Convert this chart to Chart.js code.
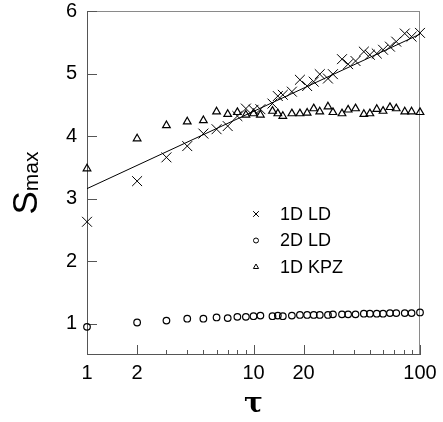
<!DOCTYPE html>
<html>
<head>
<meta charset="utf-8">
<script src="https://cdn.jsdelivr.net/npm/chart.js@4.4.1/dist/chart.umd.min.js"></script>
<style>
  html, body { margin: 0; padding: 0; background: #fff; }
  #wrap { width: 443px; height: 422px; }
</style>
</head>
<body>
<div id="wrap"><canvas id="smaxChart" width="443" height="422"></canvas></div>
<script>
// tau values shared by the three runs
const tau = [1, 2, 3, 4, 5, 6, 7, 8, 9, 10, 11, 13, 14, 15, 17, 19, 21, 23, 25, 28, 30,
  34, 37, 41, 46, 50, 55, 60, 66, 72, 81, 89, 100];
const ld1d = [2.63, 3.28, 3.66, 3.84, 4.04, 4.11, 4.16, 4.32, 4.44, 4.42, 4.43, 4.52, 4.64,
  4.66, 4.71, 4.90, 4.80, 4.87, 4.99, 4.92, 4.99, 5.23, 5.15, 5.20, 5.35, 5.30, 5.32, 5.38,
  5.43, 5.51, 5.64, 5.59, 5.65];
const ld2d = [0.95, 1.02, 1.05, 1.08, 1.08, 1.10, 1.09, 1.11, 1.11, 1.12, 1.13, 1.12, 1.13,
  1.12, 1.13, 1.14, 1.14, 1.14, 1.14, 1.14, 1.15, 1.15, 1.15, 1.15, 1.16, 1.16, 1.16, 1.16,
  1.17, 1.17, 1.17, 1.17, 1.18];
const kpz1d = [3.48, 3.96, 4.17, 4.23, 4.25, 4.39, 4.35, 4.38, 4.34, 4.36, 4.34, 4.40, 4.36,
  4.32, 4.36, 4.36, 4.37, 4.44, 4.39, 4.47, 4.38, 4.36, 4.42, 4.44, 4.35, 4.36, 4.43, 4.40,
  4.46, 4.44, 4.39, 4.39, 4.38];
// straight fit through the 1D LD points (linear in log tau)
const fitTau = [1, 100];
const fitS = [3.16, 5.63];

const xTickLabels = [1, 2, 10, 20, 100];
const xMinorTicks = [3, 4, 5, 6, 7, 8, 9, 30, 40, 50, 60, 70, 80, 90];
const yTicks = [1, 2, 3, 4, 5, 6];
const seriesNames = ['1D LD', '2D LD', '1D KPZ'];

const pts = (xs, ys) => xs.map((x, i) => ({ x: x, y: ys[i] }));
const FONT = 'Liberation Sans, Arial, sans-serif';

// frame box + inward tick marks + y title
const frameTicks = {
  id: 'frameTicks',
  beforeDatasetsDraw(chart) {
    const { ctx, chartArea: a, scales: { x, y } } = chart;
    ctx.save();
    ctx.lineWidth = 1;
    ctx.strokeStyle = '#8a8a8a';
    ctx.beginPath();
    ctx.moveTo(a.left, a.top + 0.5); ctx.lineTo(a.right, a.top + 0.5);
    ctx.moveTo(a.right - 0.5, a.top); ctx.lineTo(a.right - 0.5, a.bottom);
    ctx.stroke();
    ctx.strokeStyle = '#555';
    ctx.beginPath();
    ctx.moveTo(a.left + 0.5, a.top); ctx.lineTo(a.left + 0.5, a.bottom);
    ctx.moveTo(a.left, a.bottom - 0.5); ctx.lineTo(a.right, a.bottom - 0.5);
    // x ticks pointing up
    xTickLabels.concat(xMinorTicks).forEach(v => {
      const px = Math.round(x.getPixelForValue(v)) + 0.5;
      const len = xTickLabels.includes(v) ? 10 : 5;
      ctx.moveTo(px, a.bottom); ctx.lineTo(px, a.bottom - len);
    });
    // y ticks pointing right
    yTicks.forEach(v => {
      const py = Math.round(y.getPixelForValue(v)) + 0.5;
      ctx.moveTo(a.left, py); ctx.lineTo(a.left + 10, py);
    });
    ctx.stroke();

    // y axis title S_max
    ctx.fillStyle = '#000';
    ctx.translate(37, 183);
    ctx.rotate(-Math.PI / 2);
    ctx.textBaseline = 'alphabetic';
    ctx.font = '35px ' + FONT;
    const wS = ctx.measureText('S').width;
    ctx.font = '21px ' + FONT;
    const wM = ctx.measureText('max').width;
    const x0 = -(wS + wM) / 2;
    ctx.font = '35px ' + FONT;
    ctx.fillText('S', x0, 0);
    ctx.font = '21px ' + FONT;
    ctx.fillText('max', x0 + wS, 1);
    ctx.restore();
  }
};

// legend inside the plot
const innerLegend = {
  id: 'innerLegend',
  afterDatasetsDraw(chart) {
    const { ctx } = chart;
    const styles = [
      { pointStyle: 'crossRot', radius: 4, borderWidth: 1, rotation: 0 },
      { pointStyle: 'circle', radius: 2.5, borderWidth: 1, rotation: 0 },
      { pointStyle: 'triangle', radius: 3, borderWidth: 1, rotation: 0 }
    ];
    ctx.save();
    ctx.strokeStyle = '#000';
    ctx.fillStyle = '#000';
    ctx.font = '18px ' + FONT;
    ctx.textBaseline = 'middle';
    seriesNames.forEach((name, i) => {
      const yy = 214 + i * 26.5;
      ctx.save();
      ctx.fillStyle = 'rgba(0,0,0,0)';
      Chart.helpers.drawPoint(ctx, styles[i], 256, yy);
      ctx.restore();
      ctx.fillText(name, 280, yy + 1);
    });
    ctx.restore();
  }
};

new Chart(document.getElementById('smaxChart'), {
  type: 'scatter',
  data: {
    datasets: [
      {
        label: seriesNames[0], data: pts(tau, ld1d),
        pointStyle: 'crossRot', pointRadius: 7, pointBorderWidth: 1,
        borderColor: '#000', backgroundColor: 'rgba(0,0,0,0)', clip: false
      },
      {
        label: seriesNames[1], data: pts(tau, ld2d),
        pointStyle: 'circle', pointRadius: 3.3, pointBorderWidth: 1.2,
        borderColor: '#000', backgroundColor: 'rgba(0,0,0,0)', clip: false
      },
      {
        label: seriesNames[2], data: pts(tau, kpz1d),
        pointStyle: 'triangle', pointRadius: 4.4, pointBorderWidth: 1.2,
        borderColor: '#000', backgroundColor: 'rgba(0,0,0,0)', clip: false
      },
      {
        label: 'fit', data: pts(fitTau, fitS), showLine: true,
        pointRadius: 0, borderWidth: 1, borderColor: '#000'
      }
    ]
  },
  options: {
    responsive: false,
    animation: false,
    layout: { padding: { left: 0, right: 23, top: 11, bottom: 0 } },
    plugins: { legend: { display: false }, tooltip: { enabled: false } },
    scales: {
      x: {
        type: 'logarithmic', min: 1, max: 100,
        grid: { display: false, drawTicks: false }, border: { display: false },
        afterBuildTicks: s => { s.ticks = xTickLabels.map(v => ({ value: v })); },
        afterFit: s => { s.height = 67; s.paddingLeft = 0; s.paddingRight = 0; },
        ticks: {
          autoSkip: false, maxRotation: 0, padding: 6, color: '#000',
          font: { family: FONT, size: 20 },
          callback: v => String(v)
        },
        title: {
          display: true, text: 'τ', color: '#000',
          font: { family: 'DejaVu Serif', size: 28, weight: 'bold' },
          padding: { top: 0, bottom: 0 }
        }
      },
      y: {
        min: 0.5, max: 6,
        grid: { display: false, drawTicks: false }, border: { display: false },
        afterBuildTicks: s => { s.ticks = yTicks.map(v => ({ value: v })); },
        afterFit: s => { s.width = 87; s.paddingTop = 0; s.paddingBottom = 0; },
        ticks: {
          padding: 10, color: '#000',
          font: { family: FONT, size: 20 },
          callback: v => String(v)
        }
      }
    }
  },
  plugins: [frameTicks, innerLegend]
});
</script>
</body>
</html>
